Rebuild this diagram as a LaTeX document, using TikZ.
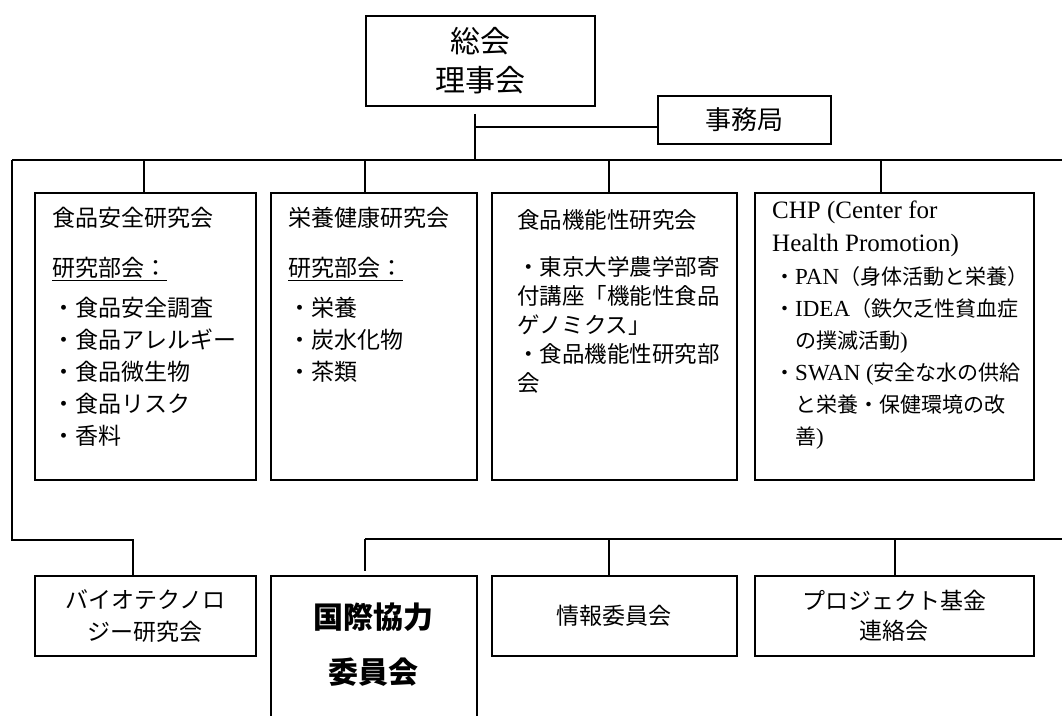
\documentclass[tikz,border=0pt]{standalone}
\usepackage{fontspec}
\setmainfont{Noto Sans CJK JP}
\newfontfamily\lat{Liberation Serif}
\usetikzlibrary{positioning}

\newcommand{\latin}[1]{{\lat\fontsize{23}{32}\selectfont #1}}

\tikzset{
  orgbox/.style={draw, line width=1.8pt, inner sep=0pt, anchor=north west},
  link/.style={line width=1.3pt},
  blocktext/.style={anchor=north west, inner sep=0pt, align=left, font=\fontsize{23}{32}\selectfont},
}

\begin{document}
\begin{tikzpicture}[x=1pt,y=-1pt]
\useasboundingbox (0,0) rectangle (1062,715);
\clip (0,0) rectangle (1062,715);
%
\node[orgbox, minimum width=229, minimum height=90, align=center, font=\fontsize{30}{39}\selectfont] (general) at (365,15) {総会\\理事会};
\node[orgbox, minimum width=173, minimum height=48, font=\fontsize{26}{30}\selectfont] (office) at (657,95) {事務局};
%
\node[orgbox, minimum width=221, minimum height=287] (safety) at (34,192) {};
\node[orgbox, minimum width=206, minimum height=287] (nutrition) at (270,192) {};
\node[orgbox, minimum width=245, minimum height=287] (function) at (491,192) {};
\node[orgbox, minimum width=279, minimum height=287] (chp) at (754,192) {};
%
\node[blocktext] (safetytext) at (52,207) {食品安全研究会\\[18pt]\underline{研究部会：}\\[8pt]・食品安全調査\\・食品アレルギー\\・食品微生物\\・食品リスク\\・香料};
\node[blocktext] (nutritiontext) at (288,207) {栄養健康研究会\\[18pt]\underline{研究部会：}\\[8pt]・栄養\\・炭水化物\\・茶類};
\node[blocktext, font=\fontsize{22.5}{29}\selectfont] (functiontext) at (517,209) {食品機能性研究会\\[18pt]・東京大学農学部寄\\付講座「機能性食品\\ゲノミクス」\\・食品機能性研究部\\会};
\node[blocktext, font=\lat\fontsize{25}{33}\selectfont] (chphead) at (772,201) {CHP (Center for\\Health Promotion)};
\node[blocktext, font=\fontsize{21}{32}\selectfont] (chptext) at (774,266) {・\latin{PAN}（身体活動と栄養）\\・\latin{IDEA}（鉄欠乏性貧血症\\\hphantom{・}の撲滅活動\latin{)}\\・\latin{SWAN (}安全な水の供給\\\hphantom{・}と栄養・保健環境の改\\\hphantom{・}善\latin{)}};
%
\node[orgbox, minimum width=221, minimum height=80, align=center, font=\fontsize{23}{32}\selectfont] (biotech) at (34,575) {バイオテクノロ\\ジー研究会};
\node[orgbox, minimum width=206, minimum height=150] (intl) at (270,575) {};
\node[align=center, font=\fontsize{30}{55}\selectfont\bfseries] (intltext) at (373,645) {国際協力\\委員会};
\node[orgbox, minimum width=245, minimum height=80, font=\fontsize{23}{30}\selectfont] (info) at (491,575) {情報委員会};
\node[orgbox, minimum width=279, minimum height=80, align=center, font=\fontsize{23}{30}\selectfont] (fund) at (754,575) {プロジェクト基金\\連絡会};
%
\coordinate (hub) at (475,127);
\coordinate (bar) at (12,160);
\coordinate (barend) at (1062,160);
\coordinate (bend) at (133,540);
\coordinate (lowbar) at (365,539);
\coordinate (lowend) at (1062,539);
%
\draw[link, shorten <=7pt] (hub |- general.south) -- (hub |- bar);
\draw[link] (hub) -- (office.west |- hub);
\draw[link] (bar) -- (barend);
\foreach \x/\n in {144/safety,365/nutrition,609/function,881/chp}
  \draw[link] (bar -| \x,0) -- (\n.north -| \x,0);
\draw[link] (bar) |- (bend) -- (bend |- biotech.north);
%
\draw[link] (lowbar) -- (lowend);
\draw[link, shorten >=4pt] (lowbar) -- (lowbar |- intl.north);
\foreach \x/\n in {609/info,895/fund}
  \draw[link] (lowbar -| \x,0) -- (\n.north -| \x,0);
\end{tikzpicture}
\end{document}
